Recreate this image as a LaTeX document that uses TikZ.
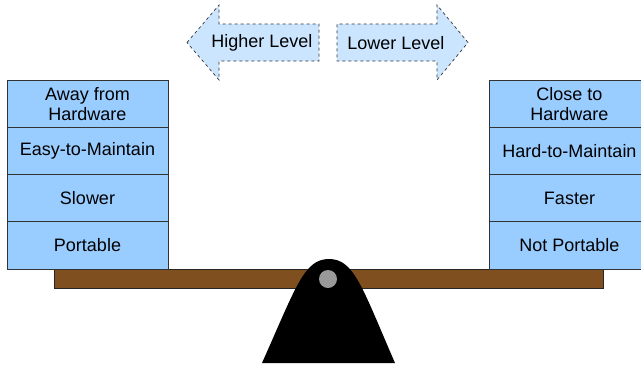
\documentclass[tikz,border=0pt]{standalone}
\usepackage{fontspec}
\setmainfont{Liberation Sans}
\definecolor{boxblue}{HTML}{99CCFF}
\definecolor{arrowblue}{HTML}{CCE5FF}
\definecolor{beambrown}{HTML}{7F4F1F}
\definecolor{pivotgray}{HTML}{999999}
\begin{document}
\begin{tikzpicture}[x=1pt,y=-1pt,
  cell/.style={draw=black!80,fill=boxblue,line width=0.8pt,minimum height=47.25pt,
    minimum width=161pt,inner sep=0pt,outer sep=0pt,align=center,
    font=\fontsize{18}{20}\selectfont,anchor=north west},
  dirarrow/.style={draw=black!80,fill=arrowblue,dashed,line width=0.7pt},
  lbl/.style={font=\fontsize{18}{20}\selectfont,inner sep=0pt}]
\useasboundingbox (0,0) rectangle (641,365);
\clip (0,0) rectangle (641,365);

% direction arrows
\draw[dirarrow] (187,42.5) -- (219,5) -- (219,24) -- (319,24) -- (319,61) -- (219,61) -- (219,80) -- cycle;
\draw[dirarrow] (468,42.5) -- (437,5) -- (437,24) -- (337,24) -- (337,61) -- (437,61) -- (437,80) -- cycle;
\node[lbl] (higher) at (262,43) {Higher Level};
\node[lbl] (lower) at (396,43) {Lower Level};

% beam
\draw[fill=beambrown,draw=black!85,line width=0.8pt] (54,269) rectangle (603,288);

% left stack
\node[cell] (l1) at (7,80) {Away from\\Hardware};
\node[cell] (l2) at (l1.south west) {Easy-to-Maintain};
\node[cell] (l3) at (l2.south west) {Slower};
\node[cell] (l4) at (l3.south west) {Portable};

% right stack (runs past the right edge)
\node[cell] (r1) at (489,80) {Close to\\Hardware};
\node[cell] (r2) at (r1.south west) {Hard-to-Maintain};
\node[cell] (r3) at (r2.south west) {Faster};
\node[cell] (r4) at (r3.south west) {Not Portable};

% fulcrum
\fill[black] (262,363) .. controls (296,287) and (304,259) .. (329,259)
  .. controls (354,259) and (362,287) .. (395,363) -- cycle;
\fill[pivotgray] (328,279) circle (9);
\end{tikzpicture}
\end{document}
